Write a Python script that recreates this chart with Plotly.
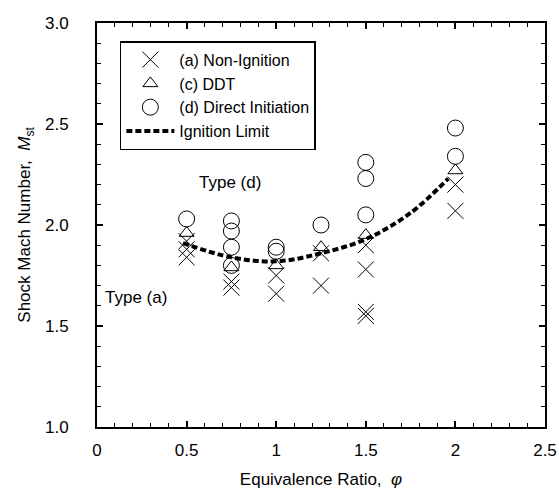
import plotly.graph_objects as go

# Data
non_ign_phi = [0.5, 0.5, 0.5, 0.75, 0.75, 1.0, 1.0, 1.25, 1.25, 1.5, 1.5, 1.5, 1.5, 2.0, 2.0]
non_ign_M   = [1.92, 1.88, 1.84, 1.72, 1.69, 1.75, 1.66, 1.86, 1.70, 1.90, 1.78, 1.57, 1.55, 2.20, 2.07]

ddt_phi = [0.5, 0.75, 1.0, 1.25, 1.5, 2.0]
ddt_M   = [1.96, 1.79, 1.80, 1.89, 1.95, 2.27]

direct_phi = [0.5, 0.75, 0.75, 0.75, 0.75, 1.0, 1.0, 1.25, 1.5, 1.5, 1.5, 2.0, 2.0]
direct_M   = [2.03, 2.02, 1.97, 1.89, 1.80, 1.89, 1.87, 2.00, 2.31, 2.23, 2.05, 2.48, 2.34]

limit_phi = [0.48, 0.75, 1.0, 1.25, 1.5, 1.75, 1.96]
limit_M   = [1.91, 1.84, 1.82, 1.86, 1.93, 2.06, 2.23]

x_tickvals = [0, 0.5, 1, 1.5, 2, 2.5]
x_ticktext = ["0", "0.5", "1", "1.5", "2", "2.5"]
y_tickvals = [1.0, 1.5, 2.0, 2.5, 3.0]
y_ticktext = ["1.0", "1.5", "2.0", "2.5", "3.0"]

FONT = "Liberation Sans, Arial, sans-serif"

fig = go.Figure()
fig.add_trace(go.Scatter(
    x=non_ign_phi, y=non_ign_M, mode="markers", name="(a) Non-Ignition",
    marker=dict(symbol="x-thin-open", size=16, color="black", line=dict(width=1, color="black")),
))
fig.add_trace(go.Scatter(
    x=ddt_phi, y=ddt_M, mode="markers", name="(c) DDT",
    marker=dict(symbol="triangle-up-open", size=13, color="black", line=dict(width=1, color="black")),
))
fig.add_trace(go.Scatter(
    x=direct_phi, y=direct_M, mode="markers", name="(d) Direct Initiation",
    marker=dict(symbol="circle-open", size=16, color="black", line=dict(width=1, color="black")),
))
fig.add_trace(go.Scatter(
    x=limit_phi, y=limit_M, mode="lines", name="Ignition Limit",
    line=dict(color="black", width=4, dash="6px,3px", shape="spline"),
))

fig.add_annotation(x=0.74, y=2.21, text="Type (d)", showarrow=False,
                   font=dict(family=FONT, size=17, color="black"))
fig.add_annotation(x=0.22, y=1.64, text="Type (a)", showarrow=False,
                   font=dict(family=FONT, size=17, color="black"))

axis_common = dict(
    showline=True, linewidth=2, linecolor="black", mirror="ticks",
    ticks="inside", ticklen=6, tickwidth=1.5, tickcolor="black",
    showgrid=False, zeroline=False, automargin=False,
    tickfont=dict(family=FONT, size=17, color="black"),
)

fig.update_xaxes(
    range=[0, 2.5], tickvals=x_tickvals, ticktext=x_ticktext,
    ticklabelstandoff=7, ticklabeloverflow="allow",
    minor=dict(dtick=0.1, tick0=0, ticks="inside", ticklen=4, tickwidth=1, tickcolor="black"),
    title=dict(text="Equivalence Ratio,  <i>φ</i>", font=dict(family=FONT, size=17, color="black"), standoff=14),
    **axis_common,
)
fig.update_yaxes(
    range=[1.0, 3.0], tickvals=y_tickvals, ticktext=y_ticktext,
    ticklabelstandoff=23,
    minor=dict(dtick=0.1, tick0=1.0, ticks="inside", ticklen=4, tickwidth=1, tickcolor="black"),
    title=dict(text="Shock Mach Number,  <i>M</i><sub>st</sub>", font=dict(family=FONT, size=17, color="black"), standoff=10),
    **axis_common,
)

fig.update_layout(
    width=559, height=495,
    margin=dict(l=97, r=14, t=23, b=68, autoexpand=False),
    plot_bgcolor="white", paper_bgcolor="white",
    font=dict(family=FONT, size=16, color="black"),
    showlegend=True,
    legend=dict(
        x=0.051, y=0.955, xanchor="left", yanchor="top",
        bgcolor="white", bordercolor="black", borderwidth=1.5,
        font=dict(family=FONT, size=16, color="black"),
        tracegroupgap=0, itemwidth=48,
    ),
)

# remove the default page margin so the 559x495 figure fills the window exactly
fig.write_html(
    "out.html",
    config={"displayModeBar": False},
    post_script="document.body.style.margin='0';document.body.style.overflow='hidden';",
)
